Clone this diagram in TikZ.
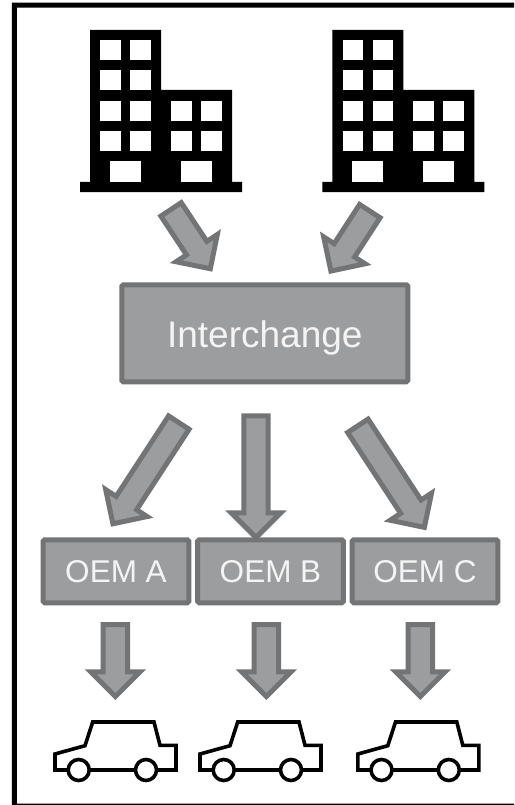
\documentclass[tikz,border=0pt]{standalone}
\usepackage{fontspec}
\setmainfont{Liberation Sans}
\definecolor{edgegray}{HTML}{737476}
\definecolor{fillgray}{HTML}{9C9D9F}
\definecolor{labelwhite}{HTML}{F4F4F4}
\tikzset{
  boxstyle/.style={draw=edgegray,fill=fillgray,line width=5pt,rounded corners=1.5pt,inner sep=0pt,outer sep=0pt,text=labelwhite},
  bigbox/.style={boxstyle,minimum width=286pt,minimum height=97pt,text height=28pt,text depth=0pt,font=\fontsize{37}{37}\selectfont},
  oembox/.style={boxstyle,minimum width=145.6pt,minimum height=63pt,text height=22.4pt,text depth=0pt,font=\fontsize{31.5}{32}\selectfont},
  arrowstyle/.style={draw=edgegray,fill=fillgray,line width=5pt,miter limit=10},
  carline/.style={draw=black,line width=3.6pt,fill=white,line join=miter},
}
% tail centre (outer) x y, tip (outer) x y
\newcommand{\blockarrow}[4]{%
  \pgfmathsetmacro{\ang}{-atan2(#4-#2,#3-#1)}%
  \pgfmathsetmacro{\len}{veclen(#3-#1,#4-#2)}%
  \pgfmathsetmacro{\tipx}{\len-3.5}%
  \pgfmathsetmacro{\basex}{\len-30.7+2.5}%
  \begin{scope}[shift={(#1,#2)},rotate=\ang]
    \draw[arrowstyle] (2.5,-12.2) -- (\basex,-12.2) -- (\basex,-24.7) -- (\tipx,0)
      -- (\basex,24.7) -- (\basex,12.2) -- (2.5,12.2) -- cycle;
  \end{scope}}
\newcommand{\officeblock}[1]{%
  \begin{scope}[shift={(#1,0)}]
    \fill[black] (80,192) -- (80,182) -- (90,182) -- (90,30) -- (161,30) -- (161,90) -- (232,90) -- (232,182) -- (242,182) -- (242,192) -- cycle;
    \foreach \wy in {40,70,100.6,131}{
      \fill[white] (100.3,\wy) rectangle ++(20.6,20.2);
      \fill[white] (130.3,\wy) rectangle ++(20.6,20.2);}
    \foreach \wy in {100.6,131}{
      \fill[white] (171,\wy) rectangle ++(20.6,20.2);
      \fill[white] (201,\wy) rectangle ++(20.6,20.2);}
    \fill[white] (110,161) rectangle (141,182);
    \fill[white] (181,161) rectangle (212,182);
  \end{scope}}
\newcommand{\carshape}[1]{%
  \begin{scope}[shift={(#1,0)}]
    \draw[carline] (55,770) -- (55,754) -- (85,745.7) -- (92.7,722) -- (154,722) -- (160,745.3) -- (176,745.3) -- (176,770) -- cycle;
    \draw[carline] (78.7,770) circle[radius=10.5];
    \draw[carline] (146,770) circle[radius=10.5];
  \end{scope}}
\begin{document}
\begin{tikzpicture}[x=1pt,y=-1pt]
\useasboundingbox (0,0) rectangle (514,805);
\fill[white] (0,0) rectangle (514,805);
% frame
\fill[black] (11.8,805) -- (11.8,2.7) -- (514,2.7) -- (514,7.7) -- (16.8,7.7) -- (16.8,803.5) -- (514,803.5) -- (514,805) -- cycle;
% buildings
\officeblock{0}
\officeblock{242.3}
% arrows
\blockarrow{169.7}{207.3}{212.3}{271.7}
\blockarrow{371.2}{209}{329}{274}
\blockarrow{180.2}{420.5}{111}{526.7}
\blockarrow{256}{413.3}{256}{541}
\blockarrow{356.5}{423.7}{426.3}{530.3}
\blockarrow{115.3}{622}{115.3}{700}
\blockarrow{266.3}{622}{266.3}{700}
\blockarrow{420.3}{622}{420.3}{700}
% boxes
\node[bigbox] (interchange) at (264.8,333.3) {Interchange};
\node[oembox] (oema) at (116,571.3) {OEM A};
\node[oembox] (oemb) at (270.5,571.3) {OEM B};
\node[oembox] (oemc) at (425,571.3) {OEM C};
% cars
\carshape{0}
\carshape{145}
\carshape{302.8}
\end{tikzpicture}
\end{document}
